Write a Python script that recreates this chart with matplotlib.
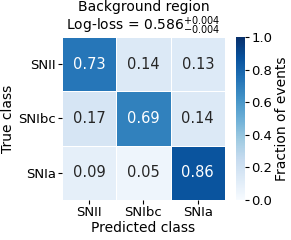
import numpy as np
import matplotlib.pyplot as plt

classes = ['SNII', 'SNIbc', 'SNIa']
matrix = np.array([[0.73, 0.14, 0.13],
                   [0.17, 0.69, 0.14],
                   [0.09, 0.05, 0.86]])
logloss = 0.586
logloss_err = 0.004

plt.rcParams['font.size'] = 9
fig = plt.figure(figsize=(2.91, 2.4), dpi=100)
ax = fig.add_axes([0.213, 0.167, 0.56, 0.679])
cax = fig.add_axes([0.811, 0.167, 0.031, 0.679])

# heatmap with white separators
mesh = ax.pcolormesh(matrix, cmap='Blues', vmin=0, vmax=1,
                     edgecolors='white', linewidth=0.5)
ax.set_xlim(0, 3)
ax.set_ylim(3, 0)
for s in ax.spines.values():
    s.set_visible(False)

for i in range(3):
    for j in range(3):
        v = matrix[i, j]
        color = 'white' if v > 0.5 else '#262626'
        ax.text(j + 0.5, i + 0.5, f'{v:.2f}', ha='center', va='center',
                color=color, fontsize=10.5)

ax.set_xticks(np.arange(3) + 0.5)
ax.set_xticklabels(classes)
ax.set_yticks(np.arange(3) + 0.5)
ax.set_yticklabels(classes)
ax.tick_params(length=3, width=0.8, labelsize=9.5, pad=1.5)
ax.set_xlabel('Predicted class', fontsize=10, labelpad=1)
ax.set_ylabel('True class', fontsize=10, labelpad=2)
ax.set_title('Background region\n' +
             r'Log-loss = $%.3f^{+%.3f}_{-%.3f}$' % (logloss, logloss_err, logloss_err),
             fontsize=10, pad=3, linespacing=1.05)

cb = fig.colorbar(mesh, cax=cax)
cb.outline.set_visible(False)
cb.set_ticks([0, 0.2, 0.4, 0.6, 0.8, 1.0])
cb.ax.tick_params(length=3, width=0.8, labelsize=9.5, pad=1.5)
cb.set_label('Fraction of events', fontsize=10, labelpad=2)

plt.savefig('out.png', dpi=100)
